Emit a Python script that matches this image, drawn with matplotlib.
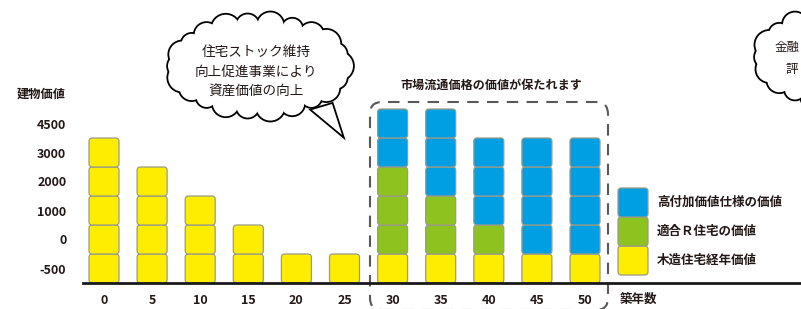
import numpy as np
import matplotlib
matplotlib.use("Agg")
import matplotlib.pyplot as plt
from matplotlib.patches import FancyBboxPatch, Circle, Ellipse, Polygon

plt.rcParams['font.family'] = ['Noto Sans CJK JP', 'DejaVu Sans']

# data (one block = one unit)
years = ['0', '5', '10', '15', '20', '25', '30', '35', '40', '45', '50']
wood_value = [5, 4, 3, 2, 1, 1, 1, 1, 1, 1, 1]
r_house_value = [0, 0, 0, 0, 0, 0, 3, 2, 1, 0, 0]
high_spec_value = [0, 0, 0, 0, 0, 0, 2, 3, 3, 4, 4]
ytick_labels = ['-500', '0', '1000', '2000', '3000', '4500']
series_names = ['木造住宅経年価値', '適合Ｒ住宅の価値', '高付加価値仕様の価値']
series_colors = ['#FFED00', '#8DC21F', '#009FE3']

TXT = '#231815'
W, H = 801, 309
X0, DX = 104, 48.1      # pixel of first bar centre, spacing
Y0, DY = 283, 29        # pixel of baseline, block height

fig = plt.figure(figsize=(W / 100, H / 100), dpi=100)
ax = fig.add_axes([83 / W, (H - Y0) / H, (800 - 83) / W, Y0 / H])
ax.set_xlim((83 - X0) / DX, (800 - X0) / DX)
ax.set_ylim(0, Y0 / DY)
for s in ax.spines.values():
    s.set_visible(False)
ax.axhline(0, color='#1a1a1a', lw=2, zorder=5, clip_on=False)

asp = DX / DY
bw = 30 / DX


def block(x, y, color):
    p = FancyBboxPatch((x - bw / 2, y), bw, 1,
                       boxstyle="round,pad=0,rounding_size=0.07",
                       mutation_aspect=asp, fc=color, ec='#9a9a88', lw=0.9,
                       zorder=3, clip_on=False)
    ax.add_patch(p)


for i in range(len(years)):
    level = 0
    for vals, col in zip([wood_value, r_house_value, high_spec_value], series_colors):
        for k in range(vals[i]):
            block(i, level, col)
            level += 1

ax.set_xticks(range(len(years)))
ax.set_xticklabels(years, fontsize=9, fontweight='bold', color=TXT)
ax.set_yticks(np.arange(len(ytick_labels)) + 0.5)
ax.set_yticklabels(ytick_labels, fontsize=9, fontweight='bold', color=TXT)
ax.tick_params(axis='x', length=0, pad=8)
ax.tick_params(axis='y', length=0, pad=12)

# dashed frame around 30-50
fx0, fx1 = (370 - X0) / DX, (608 - X0) / DX
fy0, fy1 = (Y0 - 310) / DY, (Y0 - 102) / DY
frame = FancyBboxPatch((fx0, fy0), fx1 - fx0, fy1 - fy0,
                       boxstyle="round,pad=0,rounding_size=0.25",
                       mutation_aspect=asp, fc='none', ec='#595757', lw=1.5,
                       ls=(0, (5.5, 4)), zorder=2, clip_on=False)
ax.add_patch(frame)

# legend blocks
lx = (633 - X0) / DX
ly = (Y0 - 275) / DY
for k, (name, col) in enumerate(zip(series_names, series_colors)):
    block(lx, ly + k, col)
    ax.text((657 - X0) / DX, ly + k + 0.5, name, fontsize=9, fontweight='bold',
            color=TXT, va='center', ha='left')

# overlay in pixel coordinates for annotations
ov = fig.add_axes([0, 0, 1, 1], facecolor='none')
ov.set_xlim(0, W)
ov.set_ylim(H, 0)
ov.axis('off')

ov.text(17, 94, '建物価値', fontsize=8.8, fontweight='bold', color=TXT, va='center')
ov.text(620, 299, '築年数', fontsize=9, fontweight='bold', color=TXT, va='center')
ov.text(491, 85, '市場流通価格の価値が保たれます', fontsize=8.7, fontweight='bold',
        color=TXT, va='center', ha='center')


def cloud(cx, cy, a, b, n, radii, tail=None):
    t = np.linspace(0, 2 * np.pi, n, endpoint=False)
    pts = [(cx + a * np.cos(v), cy + b * np.sin(v)) for v in t]
    rr = [radii[j % len(radii)] for j in range(n)]
    if tail is not None:
        ov.add_patch(Polygon(tail, closed=True, fc='white', ec='black', lw=2.6, zorder=10))
    for (px, py), r in zip(pts, rr):
        ov.add_patch(Circle((px, py), r, fc='white', ec='black', lw=2.6, zorder=10))
    for (px, py), r in zip(pts, rr):
        ov.add_patch(Circle((px, py), r, fc='white', ec='none', zorder=11))
    if tail is not None:
        ov.add_patch(Polygon(tail, closed=True, fc='white', ec='none', zorder=11))
    ov.add_patch(Ellipse((cx, cy), 2 * a, 2 * b, fc='white', ec='none', zorder=11))


cloud(259, 66, 80, 41, 22, [14, 11, 13, 10, 12],
      tail=[(312, 110), (342, 135), (332, 104)])
ov.text(256, 52, '住宅ストック維持', fontsize=9.8, color=TXT, ha='center', va='center', zorder=12)
ov.text(256, 72, '向上促進事業により', fontsize=9.8, color=TXT, ha='center', va='center', zorder=12)
ov.text(256, 92, '資産価値の向上', fontsize=9.8, color=TXT, ha='center', va='center', zorder=12)

cloud(850, 57, 84, 43, 22, [13, 11, 14, 10, 12])
ov.text(775, 47, '金融', fontsize=9, color=TXT, ha='left', va='center', zorder=12)
ov.text(786, 70, '評', fontsize=9, color=TXT, ha='left', va='center', zorder=12)

fig.savefig('out.png', dpi=100)
